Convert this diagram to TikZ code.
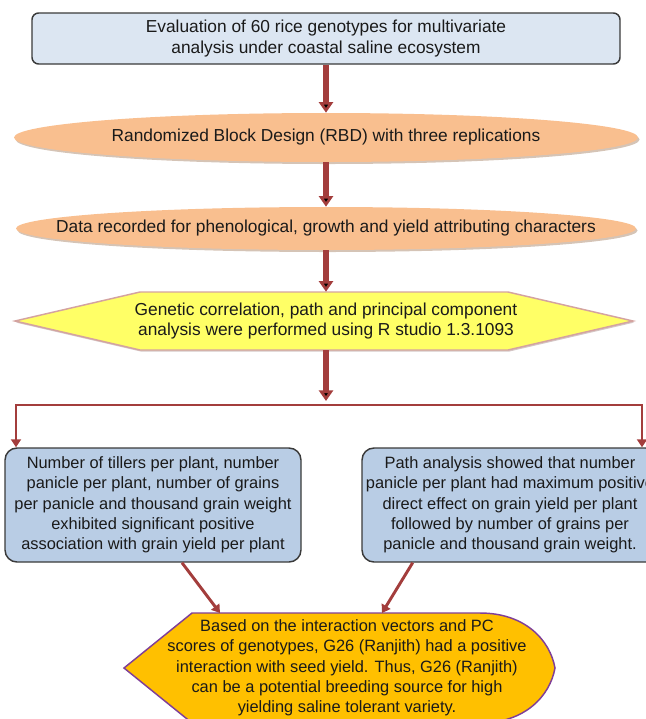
\documentclass[tikz,border=0pt]{standalone}
\usepackage{fontspec}
\setmainfont{Liberation Sans}
\usepackage{xcolor}
\usetikzlibrary{shapes.geometric,arrows.meta,shadows}
\definecolor{boxblue}{HTML}{DCE6F2}
\definecolor{midblue}{HTML}{B9CDE5}
\definecolor{ovalorange}{HTML}{F9BF8F}
\definecolor{hexyellow}{HTML}{FFFF66}
\definecolor{hexedge}{HTML}{D4A3A0}
\definecolor{resgold}{HTML}{FFC000}
\definecolor{respurple}{HTML}{7F3F98}
\definecolor{arrowred}{HTML}{A33D3C}
\definecolor{edgegray}{HTML}{3A3A3A}
\definecolor{textgray}{HTML}{1A1A1A}

\begin{document}
\begin{tikzpicture}[x=0.75pt, y=-0.75pt,
    every node/.style={font=\fontsize{13}{15.3}\selectfont, text=textgray, align=center, inner sep=0pt},
    smalltext/.style={font=\fontsize{12.3}{15.2}\selectfont},
    startbox/.style={rectangle, rounded corners=5pt, draw=edgegray, line width=1.1pt, fill=boxblue, minimum width=441pt, minimum height=38.25pt},
    stepoval/.style={ellipse, fill=ovalorange, inner xsep=-45pt, drop shadow={shadow xshift=1.2pt, shadow yshift=-1.5pt, fill=ovalorange!65!black, opacity=0.45}},
    genhex/.style={fill=hexyellow, draw=hexedge, line width=1.1pt, drop shadow={shadow xshift=0.8pt, shadow yshift=-1.2pt, fill=hexedge!70!black, opacity=0.4}},
    findbox/.style={rectangle, rounded corners=9pt, draw=edgegray, line width=1.1pt, fill=midblue, minimum width=222pt, minimum height=85.5pt, smalltext},
    resultshape/.style={fill=resgold, draw=respurple, line width=1.1pt},
    flowarrow/.style={draw=arrowred, line width=4.5pt, -{Triangle[width=10.5pt,length=8pt]}},
    linkarrow/.style={draw=arrowred, line width=2.2pt, -{Triangle[width=7.5pt,length=6pt]}},
    branchline/.style={draw=arrowred, line width=2.2pt, {Triangle[width=7.5pt,length=6pt]}-{Triangle[width=7.5pt,length=6pt]}}]
    \useasboundingbox (0,0) rectangle (646,719);
    \clip (0,0) rectangle (646,719);

    \node (eval) at (326, 38.5) [startbox] {Evaluation of 60 rice genotypes for multivariate\\analysis under coastal saline ecosystem};
    \node (rbd) at (326, 137.5) [stepoval, minimum width=468pt, minimum height=36.75pt] {Randomized Block Design (RBD) with three replications};
    \node (data) at (326, 228.5) [stepoval, minimum width=465pt, minimum height=32.25pt] {Data recorded for phenological, growth and yield attributing characters};
    \path [genhex] (15,321) -- (140,292) -- (508,292) -- (633,321) -- (508,350) -- (140,350) -- cycle;
    \node (gen) at (326, 321) [minimum height=43.5pt] {Genetic correlation, path and principal component\\analysis were performed using R studio 1.3.1093};
    \coordinate (fork) at (326, 401);
    \coordinate (bl) at (16, 405);
    \coordinate (br) at (642, 405);
    \node (corr) at (153, 505) [findbox] {Number of tillers per plant, number\\panicle per plant, number of grains\\per panicle and thousand grain weight\\exhibited significant positive\\association with grain yield per plant};
    \node (path) at (510, 505) [findbox] {Path analysis showed that number\\panicle per plant had maximum positive\\direct effect on grain yield per plant\\followed by number of grains per\\panicle and thousand grain weight.};
    \path [resultshape] (124,668) -- (192,613) -- (480,613) .. controls (525,613) and (550,640) .. (555,668) .. controls (550,696) and (525,723) .. (480,723) -- (192,723) -- cycle;
    \node (result) at (347, 668) [smalltext] {Based on the interaction vectors and PC\\scores of genotypes, G26 (Ranjith) had a positive\\interaction with seed yield. Thus, G26 (Ranjith)\\can be a potential breeding source for high\\yielding saline tolerant variety.};
    \coordinate (resl) at (220, 613);
    \coordinate (resr) at (382, 613);

    \draw [flowarrow] (eval) edge (rbd);
    \draw [flowarrow] (rbd) edge (data);
    \draw [flowarrow] (data) edge (gen);
    \draw [flowarrow] (gen) edge (fork);
    \draw [branchline] (bl |- corr.north) -- (bl) -- (br) -- (br |- path.north);
    \draw [linkarrow] ([xshift=21.75pt]corr.south) -- (resl);
    \draw [linkarrow] ([xshift=-73pt]path.south) -- (resr);
\end{tikzpicture}
\end{document}
